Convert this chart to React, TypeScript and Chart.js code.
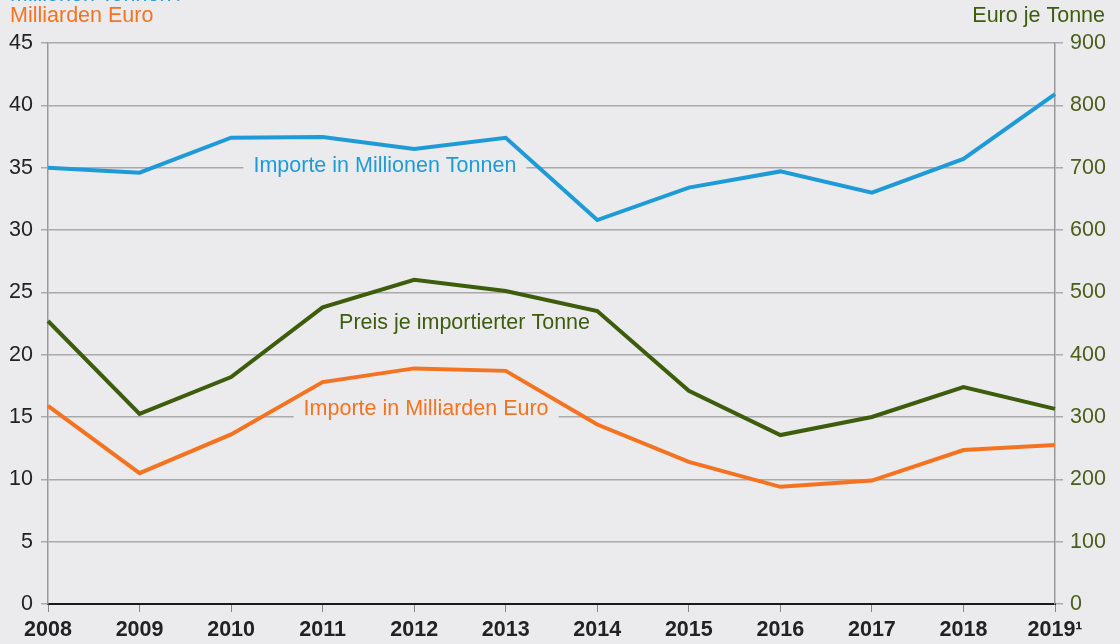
import React, { useEffect, useRef } from "react";
import { Chart, registerables } from "chart.js";

Chart.register(...registerables);

const years = ["2008", "2009", "2010", "2011", "2012", "2013", "2014", "2015", "2016", "2017", "2018", "2019¹"];
const importsMioTonnes = [35.0, 34.6, 37.4, 37.45, 36.5, 37.4, 30.8, 33.4, 34.7, 33.0, 35.7, 40.9];
const importsBnEuro = [15.9, 10.5, 13.6, 17.8, 18.9, 18.7, 14.4, 11.4, 9.4, 9.9, 12.35, 12.75];
const pricePerTonne = [454, 305, 364, 476, 520, 502, 470, 342, 271, 300, 348, 313];

const BLUE = "#1e9bd7";
const GREEN = "#3d5c0c";
const ORANGE = "#f37321";
const BG = "#ebebee";
const FONT = "'Liberation Sans', Arial, Helvetica, sans-serif";
const FS = 21.5;

// inline labels: position in data units (category index, left-axis value)
const inlineLabels = [
  { text: "Importe in Millionen Tonnen", color: BLUE, xi: 3.68, yv: 35.1, box: true },
  { text: "Preis je importierter Tonne", color: GREEN, xi: 4.55, yv: 22.5, box: false },
  { text: "Importe in Milliarden Euro", color: ORANGE, xi: 4.13, yv: 15.6, box: true },
];

const labelPlugin = {
  id: "inlineLabels",
  beforeDatasetsDraw(chart: any) {
    const { ctx, scales } = chart;
    ctx.save();
    ctx.font = `${FS}px ${FONT}`;
    ctx.textAlign = "center";
    ctx.textBaseline = "middle";
    for (const l of inlineLabels) {
      const x = scales.x.getPixelForValue(l.xi);
      const y = scales.y.getPixelForValue(l.yv);
      const w = ctx.measureText(l.text).width;
      if (l.box) {
        ctx.fillStyle = BG;
        ctx.fillRect(x - w / 2 - 10, y - 12, w + 20, 24);
      }
      ctx.fillStyle = l.color;
      ctx.fillText(l.text, x, y);
    }
    ctx.restore();
  },
  afterDraw(chart: any) {
    const { ctx } = chart;
    ctx.save();
    ctx.font = `${FS}px ${FONT}`;
    ctx.textBaseline = "alphabetic";
    ctx.textAlign = "left";
    ctx.fillStyle = BLUE;
    ctx.fillText("Millionen Tonnen /", 10, 1);
    ctx.fillStyle = ORANGE;
    ctx.fillText("Milliarden Euro", 10, 22);
    ctx.textAlign = "right";
    ctx.fillStyle = GREEN;
    ctx.fillText("Euro je Tonne", 1105, 22);
    ctx.restore();
  },
};

export default function App() {
  const ref = useRef<HTMLCanvasElement>(null);
  useEffect(() => {
    document.body.style.margin = "0";
    document.body.style.background = BG;
    const chart = new Chart(ref.current!, {
      type: "line",
      data: {
        labels: years,
        datasets: [
          { data: importsMioTonnes, borderColor: BLUE, yAxisID: "y" },
          { data: pricePerTonne, borderColor: GREEN, yAxisID: "y2" },
          { data: importsBnEuro, borderColor: ORANGE, yAxisID: "y" },
        ],
      },
      options: {
        responsive: false,
        animation: false,
        layout: { padding: { top: 43, left: 0, right: 0, bottom: 0 } },
        elements: {
          line: { borderWidth: 4, tension: 0, borderCapStyle: "butt", borderJoinStyle: "miter" },
          point: { radius: 0 },
        },
        plugins: { legend: { display: false }, tooltip: { enabled: false } },
        scales: {
          x: {
            type: "category",
            offset: false,
            grid: { drawOnChartArea: false, drawTicks: true, tickLength: 8, color: "#888", lineWidth: 1 },
            border: { color: "#1a1a1a", width: 2 },
            ticks: { color: "#222", font: { family: FONT, size: FS, weight: "bold" }, padding: 5, maxRotation: 0, autoSkip: false },
            afterFit: (s: any) => { s.height = 40; },
          },
          y: {
            position: "left",
            min: 0,
            max: 45,
            ticks: { stepSize: 5, color: "#222", font: { family: FONT, size: FS }, padding: 8 },
            grid: { color: "#aaaaaa", lineWidth: 1.5, tickLength: 7 },
            border: { color: "#999", width: 1.5 },
            afterFit: (s: any) => { s.width = 48; },
          },
          y2: {
            position: "right",
            min: 0,
            max: 900,
            ticks: { stepSize: 100, color: "#4a5e1a", font: { family: FONT, size: FS }, padding: 7 },
            grid: { drawOnChartArea: false, color: "#aaaaaa", lineWidth: 1.5, tickLength: 8 },
            border: { color: "#999", width: 1.5 },
            afterFit: (s: any) => { s.width = 65; },
          },
        },
      },
      plugins: [labelPlugin],
    } as any);
    return () => chart.destroy();
  }, []);
  return (
    <div style={{ width: 1120, height: 644, background: BG }}>
      <canvas ref={ref} width={1120} height={644} style={{ display: "block" }} />
    </div>
  );
}
